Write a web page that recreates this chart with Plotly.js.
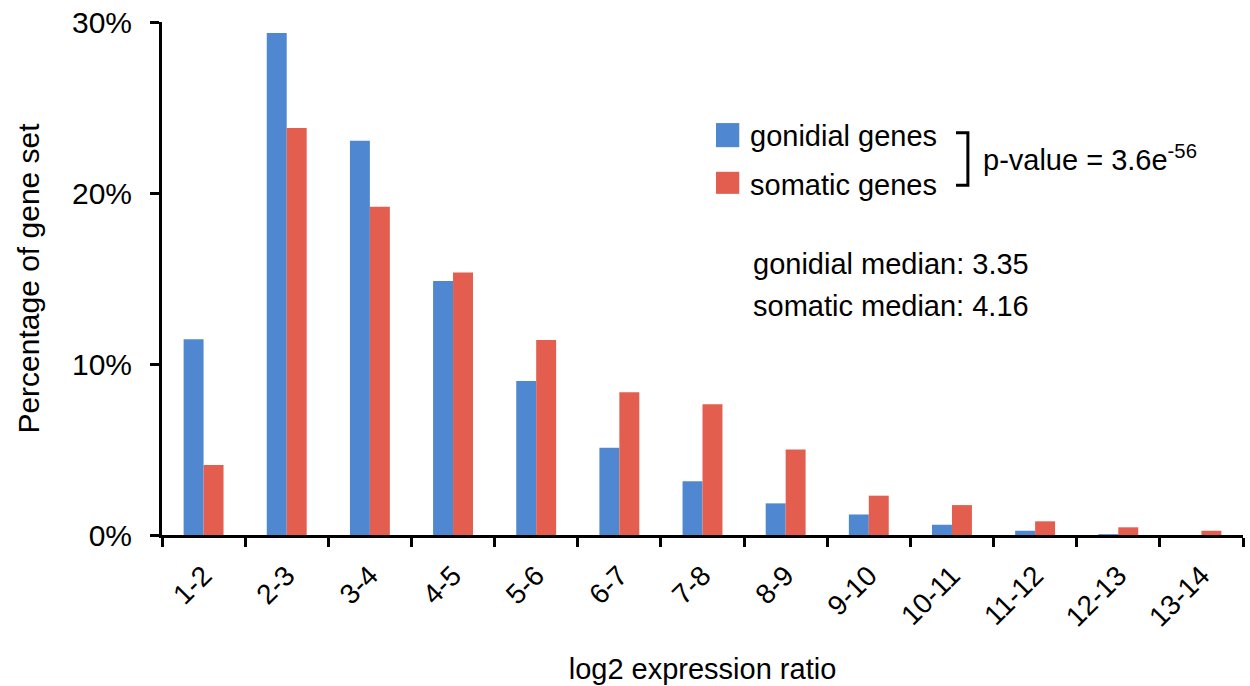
<!DOCTYPE html>
<html>
<head>
<meta charset="utf-8">
<script src="https://cdn.plot.ly/plotly-3.0.1.min.js"></script>
<style>html,body{margin:0;padding:0;background:#fff;}#chart{width:1250px;height:686px;}</style>
</head>
<body>
<div id="chart"></div>
<script>
const categories = ["1-2","2-3","3-4","4-5","5-6","6-7","7-8","8-9","9-10","10-11","11-12","12-13","13-14"];
const gonidial = [11.45, 29.35, 23.05, 14.85, 9.0, 5.1, 3.15, 1.85, 1.2, 0.6, 0.25, 0.05, 0.0];
const somatic  = [4.1, 23.8, 19.2, 15.35, 11.4, 8.35, 7.65, 5.0, 2.3, 1.75, 0.8, 0.45, 0.25];
const yTicks = [0, 10, 20, 30];
const yTickLabels = ["0%", "10%", "20%", "30%"];
const seriesNames = ["gonidial genes", "somatic genes"];
const colors = ["#4f88d0", "#e35e4f"];

const FONT = "Liberation Sans, Arial, Helvetica, sans-serif";

const traces = [
  {type: "bar", name: seriesNames[0], x: categories, y: gonidial, marker: {color: colors[0]}, showlegend: false},
  {type: "bar", name: seriesNames[1], x: categories, y: somatic, marker: {color: colors[1]}, showlegend: false}
];

const layout = {
  width: 1250, height: 686,
  margin: {l: 162, r: 7, t: 22, b: 151, pad: 0},
  paper_bgcolor: "#ffffff", plot_bgcolor: "#ffffff",
  font: {family: FONT, color: "#000000", size: 24},
  barmode: "group",
  bargap: 0.52,
  bargroupgap: 0,
  xaxis: {
    type: "category",
    showline: true, linecolor: "#000", linewidth: 3,
    ticks: "outside", tickson: "boundaries", ticklen: 9, tickwidth: 3, tickcolor: "#000",
    tickangle: -45,
    ticklabelstandoff: 10,
    tickfont: {family: FONT, size: 28, color: "#000"},
    showgrid: false, zeroline: false,
    title: {text: "log2 expression ratio", font: {family: FONT, size: 29, color: "#000"}, standoff: 28}
  },
  yaxis: {
    range: [0, 30],
    tickvals: yTicks, ticktext: yTickLabels,
    showline: true, linecolor: "#000", linewidth: 3,
    ticks: "outside", ticklen: 9, tickwidth: 3, tickcolor: "#000",
    ticklabelstandoff: 12,
    tickfont: {family: FONT, size: 30, color: "#000"},
    showgrid: false, zeroline: false,
    title: {text: "Percentage of gene set", font: {family: FONT, size: 30, color: "#000"}, standoff: 24}
  },
  shapes: [
    {type: "rect", xref: "paper", yref: "paper", x0: 0.5125, x1: 0.534, y0: 0.756, y1: 0.803, fillcolor: colors[0], line: {width: 0}},
    {type: "rect", xref: "paper", yref: "paper", x0: 0.5125, x1: 0.534, y0: 0.665, y1: 0.708, fillcolor: colors[1], line: {width: 0}},
    {type: "path", xref: "paper", yref: "paper",
     path: "M 0.7345,0.784 L 0.7455,0.784 L 0.7455,0.682 L 0.7345,0.682", line: {color: "#000", width: 3}}
  ],
  annotations: [
    {xref: "paper", yref: "paper", x: 0.542, y: 0.777, xanchor: "left", yanchor: "middle", showarrow: false,
     text: seriesNames[0], font: {family: FONT, size: 29, color: "#000"}},
    {xref: "paper", yref: "paper", x: 0.542, y: 0.683, xanchor: "left", yanchor: "middle", showarrow: false,
     text: seriesNames[1], font: {family: FONT, size: 29, color: "#000"}},
    {xref: "paper", yref: "paper", x: 0.758, y: 0.734, xanchor: "left", yanchor: "middle", showarrow: false,
     text: "p-value = 3.6e<sup>-56</sup>", font: {family: FONT, size: 29, color: "#000"}},
    {xref: "paper", yref: "paper", x: 0.674, y: 0.528, xanchor: "center", yanchor: "middle", showarrow: false,
     text: "gonidial median: 3.35", font: {family: FONT, size: 29, color: "#000"}},
    {xref: "paper", yref: "paper", x: 0.674, y: 0.446, xanchor: "center", yanchor: "middle", showarrow: false,
     text: "somatic median: 4.16", font: {family: FONT, size: 29, color: "#000"}}
  ]
};

Plotly.newPlot("chart", traces, layout, {displayModeBar: false, staticPlot: true});
</script>
</body>
</html>
